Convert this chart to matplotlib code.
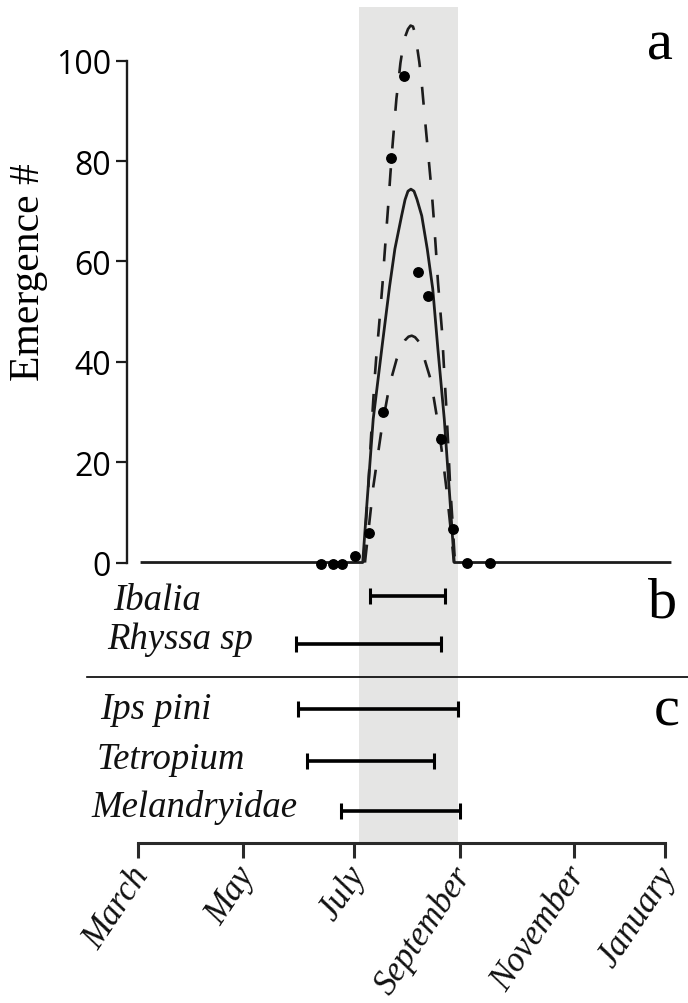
import matplotlib
matplotlib.use("Agg")
import matplotlib.pyplot as plt
from matplotlib.lines import Line2D
from matplotlib.transforms import ScaledTranslation

# ---------------- data (x in day-of-year units) ----------------
month_labels = ["March", "May", "July", "September", "November", "January"]
month_pos = [60, 121.2, 185.7, 246.9, 313.2, 366]

# observed emergence counts
obs_day = [166.1, 173.0, 178.6, 186.0, 194.3, 202.0, 207.0, 214.7, 222.8, 228.3, 236.0, 242.8, 251.3, 264.5]
obs_count = [-0.2, -0.2, -0.2, 1.2, 5.8, 30.0, 80.6, 96.9, 57.8, 53.1, 24.7, 6.7, -0.1, -0.1]

# fitted model (solid)
fit_day = [62.2, 190.5, 193.0, 196.6, 201.9, 206.1, 209.2, 213.1, 215.1, 216.8, 218.5,
           220.3, 222.0, 224.8, 228.0, 231.2, 234.2, 237.9, 240.9, 243.7, 369.1]
fit_val = [0, 0, 12, 28.6, 43.5, 55, 62.5, 69.1, 72.3, 74.0, 74.4,
           74.0, 72.4, 69.1, 62.5, 54.5, 42.5, 28.6, 14, 0, 0]

# upper confidence bound (dashed)
upper_day = [190.9, 192.4, 193.9, 195.0, 196.2, 197.3, 198.5, 199.7, 200.8, 202.0, 203.1,
             204.3, 205.5, 206.6, 207.8, 209.0, 210.1, 211.3, 212.4, 213.9, 215.4, 216.8,
             218.3, 219.7, 220.9, 222.0, 223.4, 224.8, 226.1, 227.3, 228.4, 229.6, 230.8,
             231.9, 233.1, 234.2, 235.4, 236.6, 237.7, 238.9, 240.1, 241.2, 242.7, 244.1]
upper_val = [0, 8, 16, 23, 30, 36, 41.5, 46, 50.5, 55.5, 61,
             66.5, 72, 77.5, 83, 88, 92.5, 96, 99.5, 102.8, 105, 106.3,
             107, 106.8, 105.5, 103, 99.7, 95.5, 90.5, 86, 82, 77.5, 73,
             68, 62, 56, 51, 46, 39, 32, 24, 16, 8, 0]

# lower confidence bound (dashed)
lower_day = [191.8, 193.6, 195.0, 196.6, 198.2, 199.7, 201.1, 202.9, 204.9, 207.3, 210.2,
             212.7, 215.1, 217.1, 219.0, 220.9, 223.4, 224.9, 226.7, 229.6, 231.6, 233.8,
             235.7, 237.4, 239.2, 240.9, 242.4, 243.5]
lower_val = [0, 5.6, 10, 15, 18.8, 22.4, 25.7, 29.3, 33.1, 36.9, 40.5,
             42.8, 44.3, 45.0, 45.2, 44.9, 43.9, 42.5, 40.2, 36.9, 33.2, 28.6,
             24.2, 19.7, 14.6, 9.0, 4.0, 0]

# emergence window (shaded)
window = (188.2, 245.6)

# species activity periods
taxa_b = ["Ibalia", "Rhyssa sp"]
start_b = [194.6, 151.8]
end_b = [238.5, 235.9]
taxa_c = ["Ips pini", "Tetropium", "Melandryidae"]
start_c = [153.0, 158.1, 178.0]
end_c = [246.0, 232.0, 246.8]

# ---------------- figure ----------------
W, H = 688, 1004
fig = plt.figure(figsize=(W / 100, H / 100), dpi=100)

def fx(px):
    return px / W

def fy(py):
    return 1 - py / H

ink = "#1c1c1c"
shade = "#e5e5e4"
serif = "Liberation Serif"

ax_a = fig.add_axes([fx(127), fy(575), (680 - 127) / W, (575 - 8) / H])
ax_bc = fig.add_axes([fx(127), fy(844), (680 - 127) / W, (844 - 575) / H], sharex=ax_a)

xlim = (53.5, 374.9)
ax_a.set_xlim(*xlim)
ax_a.set_ylim(-2.29, 110.7)

for ax in (ax_a, ax_bc):
    ax.axvspan(window[0], window[1], color=shade, lw=0, zorder=0)
    ax.patch.set_alpha(0)

# panel a
ax_a.plot(fit_day, fit_val, color=ink, lw=2.0, solid_joinstyle="round", zorder=3)
ax_a.plot(upper_day, upper_val, color=ink, lw=1.9, dashes=(6.8, 7.5), zorder=3)
ax_a.plot(lower_day, lower_val, color=ink, lw=1.9, dashes=(6.8, 7.5), zorder=3)
ax_a.plot(obs_day, obs_count, "o", color="black", ms=6.8, zorder=4)

for s in ("top", "right", "bottom"):
    ax_a.spines[s].set_visible(False)
ax_a.spines["left"].set_bounds(0, 100)
ax_a.spines["left"].set_linewidth(1.7)
ax_a.spines["left"].set_color(ink)
ax_a.set_yticks([0, 20, 40, 60, 80, 100])
ax_a.tick_params(axis="y", length=8, width=1.6, color=ink, pad=3.6,
                 labelsize=23, labelcolor="black")
for lab in ax_a.get_yticklabels():
    lab.set_fontfamily("Open Sans")
ax_a.tick_params(axis="x", bottom=False, labelbottom=False)

# panels b, c
ax_bc.set_ylim(269, 0)
rows_b = [22.3, 70.0]
rows_c = [135.0, 186.7, 236.7]
bar_kw = dict(color="black", lw=2.6, capsize=6, capthick=2.2, fmt="none", zorder=3)
for starts, ends, rows in ((start_b, end_b, rows_b), (start_c, end_c, rows_c)):
    centers = [(a + b) / 2 for a, b in zip(starts, ends)]
    halves = [(b - a) / 2 for a, b in zip(starts, ends)]
    ax_bc.errorbar(centers, rows, xerr=halves, **bar_kw)

for s in ("top", "right", "left"):
    ax_bc.spines[s].set_visible(False)
ax_bc.spines["bottom"].set_bounds(month_pos[0], month_pos[-1])
ax_bc.spines["bottom"].set_linewidth(2.2)
ax_bc.spines["bottom"].set_color("#2a2a2a")
ax_bc.set_yticks([])
ax_bc.set_xticks(month_pos)
ax_bc.set_xticklabels([])
ax_bc.tick_params(axis="x", length=10.8, width=2.2, color="#2a2a2a")

# rotated month labels, anchored just below each tick
lab_tr = ax_bc.get_xaxis_transform() + ScaledTranslation(-9 / 100, -17 / 100, fig.dpi_scale_trans)
for pos, name in zip(month_pos, month_labels):
    ax_bc.text(pos, 0, name, transform=lab_tr, rotation=56, rotation_mode="anchor",
               ha="right", va="top", fontfamily=serif, fontstyle="italic",
               fontsize=25, color="#111111", clip_on=False)

# separator between b and c
fig.add_artist(Line2D([fx(87), 1.0], [fy(678.3), fy(678.3)], transform=fig.transFigure,
                      color="black", lw=1.2))

# taxon labels
label_x = [113, 107.5, 100, 96.5, 91]
label_base = [610, 649.3, 719.3, 769.3, 816.7]
for name, lx, ly in zip(taxa_b + taxa_c, label_x, label_base):
    fig.text(fx(lx), fy(ly), name, ha="left", va="baseline", fontfamily=serif,
             fontstyle="italic", fontsize=26.5, color="#111111")

# panel letters
for letter, rx, by in (("a", 673, 60), ("b", 677.6, 617), ("c", 680, 725)):
    fig.text(fx(rx), fy(by), letter, ha="right", va="baseline", fontfamily=serif,
             fontsize=42, color="black")

# y label
fig.text(fx(29), fy(272), "Emergence #", rotation=90, ha="center", va="center",
         fontfamily=serif, fontsize=30, color="black")

fig.savefig("out.png", dpi=100)
